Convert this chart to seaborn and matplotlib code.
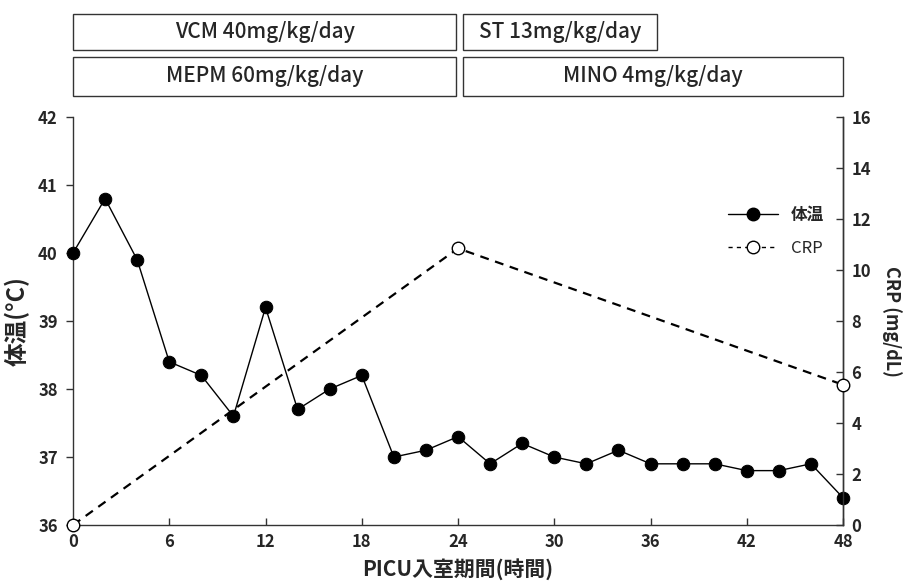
import seaborn as sns
import pandas as pd
from matplotlib import pyplot as plt
from matplotlib.lines import Line2D
from matplotlib.patches import Rectangle
import matplotlib.transforms as mtransforms

# data
hours = [0, 2, 4, 6, 8, 10, 12, 14, 16, 18, 20, 22, 24,
         26, 28, 30, 32, 34, 36, 38, 40, 42, 44, 46, 48]
temp = [40.0, 40.8, 39.9, 38.4, 38.2, 37.6, 39.2, 37.7, 38.0, 38.2, 37.0, 37.1, 37.3,
        36.9, 37.2, 37.0, 36.9, 37.1, 36.9, 36.9, 36.9, 36.8, 36.8, 36.9, 36.4]
crp_hours = [0, 24, 48]
crp = [0.0, 10.85, 5.5]

# drug boxes: label, start hour, end hour, row (0 = top)
drugs = [('VCM 40mg/kg/day', 0, 23.9, 0),
         ('ST 13mg/kg/day', 24.3, 36.4, 0),
         ('MEPM 60mg/kg/day', 0, 23.9, 1),
         ('MINO 4mg/kg/day', 24.3, 48, 1)]

temp_df = pd.DataFrame({'hour': hours, 'temp': temp})
crp_df = pd.DataFrame({'hour': crp_hours, 'crp': crp})

sns.set_theme(style='white')
plt.rcParams['font.family'] = ['Noto Sans CJK JP', 'DejaVu Sans']

fig = plt.figure(figsize=(9.07, 5.87), dpi=100)
ax = fig.add_axes([0.0805, 0.1056, 0.849, 0.695])
ax2 = ax.twinx()

sns.lineplot(data=temp_df, x='hour', y='temp', ax=ax, color='black', lw=1,
             marker='o', markersize=9, markeredgecolor='black', zorder=3,
             clip_on=False)
sns.lineplot(data=crp_df, x='hour', y='crp', ax=ax2, color='black', lw=1.6,
             linestyle='--', marker='o', markersize=9, markerfacecolor='white',
             markeredgecolor='black', markeredgewidth=1, zorder=3, clip_on=False)
ax2.lines[0].set_dashes((4, 3))

ax.set_xlim(0, 48)
ax.set_ylim(36, 42)
ax2.set_ylim(0, 16)
ax.set_xticks(range(0, 49, 6))
ax.set_yticks(range(36, 43))
ax2.set_yticks(range(0, 17, 2))

for a in (ax, ax2):
    a.spines['top'].set_visible(False)
    for s in a.spines.values():
        s.set_color('#333333')
        s.set_linewidth(1)
ax2.spines['left'].set_visible(False)
ax2.spines['bottom'].set_visible(False)

ax.tick_params(axis='x', direction='in', length=5, width=1, color='#333333',
               bottom=True, labelsize=12, pad=6)
ax.tick_params(axis='y', direction='out', length=5, width=1, color='#333333',
               left=True, labelsize=12, pad=6)
ax2.tick_params(axis='y', direction='in', length=5, width=1, color='#333333',
                right=True, labelsize=12, pad=6)
for lab in ax.get_xticklabels() + ax.get_yticklabels() + ax2.get_yticklabels():
    lab.set_fontweight('bold')

ax.set_xlabel('PICU入室期間(時間)', fontsize=15, fontweight='bold', labelpad=5)
ax.set_ylabel('体温(°C)', fontsize=17, fontweight='bold', labelpad=6)
ax2.set_ylabel('CRP (mg/dL)', fontsize=13, fontweight='bold', rotation=270,
               labelpad=22)

# drug boxes above the plot
trans = mtransforms.blended_transform_factory(ax.transData, ax.transAxes)
row_y = [(1.165, 0.088), (1.052, 0.095)]
for label, x0, x1, row in drugs:
    y0, h = row_y[row]
    ax.add_patch(Rectangle((x0, y0), x1 - x0, h, transform=trans, clip_on=False,
                           facecolor='white', edgecolor='#333333', lw=1))
    ax.text((x0 + x1) / 2, y0 + h / 2, label, transform=trans, ha='center',
            va='center', fontsize=15, fontweight='medium')

handles = [Line2D([], [], color='black', lw=1, marker='o', markersize=9),
           Line2D([], [], color='black', lw=1, linestyle=(0, (3, 3)), marker='o',
                  markersize=9, markerfacecolor='white')]
leg = ax.legend(handles, ['体温', 'CRP'], loc='upper right',
                bbox_to_anchor=(0.995, 0.82), frameon=False, fontsize=12,
                handlelength=3, labelspacing=1.0)
leg.get_texts()[0].set_fontweight('bold')

fig.savefig('out.png', dpi=100)
